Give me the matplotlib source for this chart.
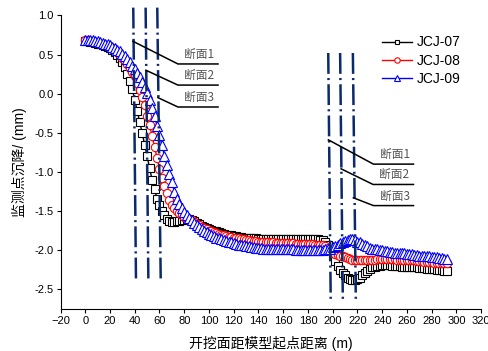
"""Settlement of monitoring points along the model (JCJ-07/08/09)"""

import matplotlib

matplotlib.use("Agg")
import matplotlib.pyplot as plt
import numpy as np

plt.rcParams["font.family"] = ["Liberation Sans", "Noto Sans CJK SC", "DejaVu Sans"]
plt.rcParams["lines.scale_dashes"] = False

# distance from model start (m), one reading every 2 m
distance = np.arange(0, 294, 2)

jcj07 = [
    0.67, 0.67, 0.66, 0.66, 0.65, 0.64, 0.63, 0.62, 0.61, 0.60,
    0.58, 0.56, 0.53, 0.50, 0.46, 0.41, 0.34, 0.25, 0.16, 0.06,
    -0.08, -0.22, -0.36, -0.50, -0.65, -0.80, -0.95, -1.10, -1.22, -1.34,
    -1.42, -1.50, -1.55, -1.60, -1.63, -1.64, -1.64, -1.63, -1.63, -1.62,
    -1.61, -1.60, -1.60, -1.61, -1.63, -1.65, -1.67, -1.69, -1.70, -1.72,
    -1.73, -1.74, -1.75, -1.76, -1.77, -1.78, -1.79, -1.80, -1.80, -1.81,
    -1.82, -1.82, -1.83, -1.83, -1.84, -1.84, -1.84, -1.85, -1.85, -1.85,
    -1.86, -1.86, -1.86, -1.86, -1.86, -1.86, -1.86, -1.86, -1.86, -1.86,
    -1.86, -1.86, -1.86, -1.86, -1.86, -1.86, -1.86, -1.86, -1.86, -1.86,
    -1.86, -1.86, -1.86, -1.86, -1.86, -1.87, -1.87, -1.89, -1.93, -2.00,
    -2.07, -2.14, -2.20, -2.25, -2.29, -2.32, -2.35, -2.37, -2.38, -2.38,
    -2.37, -2.35, -2.32, -2.29, -2.26, -2.24, -2.22, -2.21, -2.20, -2.20,
    -2.19, -2.19, -2.19, -2.19, -2.20, -2.20, -2.20, -2.20, -2.21, -2.21,
    -2.21, -2.21, -2.22, -2.22, -2.22, -2.23, -2.23, -2.23, -2.24, -2.24,
    -2.24, -2.24, -2.25, -2.25, -2.25, -2.26, -2.26,
]
jcj08 = [
    0.68, 0.68, 0.67, 0.67, 0.66, 0.65, 0.64, 0.63, 0.62, 0.61,
    0.60, 0.58, 0.56, 0.53, 0.50, 0.46, 0.42, 0.38, 0.33, 0.28,
    0.22, 0.14, 0.05, -0.04, -0.15, -0.28, -0.40, -0.54, -0.68, -0.82,
    -0.96, -1.08, -1.18, -1.27, -1.36, -1.42, -1.46, -1.50, -1.53, -1.55,
    -1.57, -1.59, -1.61, -1.62, -1.64, -1.66, -1.68, -1.70, -1.72, -1.73,
    -1.75, -1.76, -1.77, -1.78, -1.79, -1.80, -1.81, -1.82, -1.83, -1.83,
    -1.84, -1.85, -1.85, -1.86, -1.86, -1.87, -1.87, -1.88, -1.88, -1.88,
    -1.89, -1.89, -1.89, -1.90, -1.90, -1.90, -1.90, -1.91, -1.91, -1.91,
    -1.91, -1.91, -1.91, -1.91, -1.91, -1.92, -1.92, -1.92, -1.92, -1.92,
    -1.92, -1.92, -1.92, -1.93, -1.93, -1.93, -1.94, -1.95, -1.97, -2.00,
    -2.03, -2.05, -2.06, -2.07, -2.08, -2.09, -2.10, -2.11, -2.12, -2.12,
    -2.13, -2.13, -2.13, -2.13, -2.13, -2.12, -2.12, -2.12, -2.11, -2.11,
    -2.11, -2.11, -2.11, -2.11, -2.11, -2.11, -2.12, -2.12, -2.12, -2.12,
    -2.12, -2.13, -2.13, -2.13, -2.14, -2.14, -2.14, -2.15, -2.15, -2.15,
    -2.15, -2.16, -2.16, -2.16, -2.17, -2.17, -2.17,
]
jcj09 = [
    0.69, 0.69, 0.68, 0.68, 0.67, 0.67, 0.66, 0.65, 0.64, 0.63,
    0.62, 0.60, 0.58, 0.56, 0.54, 0.51, 0.48, 0.44, 0.40, 0.36,
    0.31, 0.26, 0.21, 0.15, 0.09, 0.01, -0.08, -0.18, -0.29, -0.41,
    -0.53, -0.66, -0.79, -0.91, -1.02, -1.13, -1.25, -1.34, -1.41, -1.46,
    -1.51, -1.55, -1.59, -1.62, -1.65, -1.68, -1.70, -1.73, -1.75, -1.77,
    -1.79, -1.81, -1.82, -1.84, -1.85, -1.86, -1.87, -1.88, -1.89, -1.90,
    -1.91, -1.92, -1.93, -1.93, -1.94, -1.95, -1.95, -1.96, -1.96, -1.97,
    -1.97, -1.97, -1.98, -1.98, -1.98, -1.98, -1.99, -1.99, -1.99, -1.99,
    -1.99, -1.99, -1.99, -1.99, -1.99, -2.00, -2.00, -2.00, -2.00, -2.00,
    -2.00, -2.00, -2.00, -2.00, -2.00, -2.00, -2.00, -1.99, -1.99, -1.98,
    -1.96, -1.95, -1.93, -1.91, -1.90, -1.88, -1.87, -1.86, -1.86, -1.87,
    -1.89, -1.90, -1.92, -1.94, -1.95, -1.97, -1.98, -1.99, -1.99, -2.00,
    -2.00, -2.01, -2.01, -2.02, -2.02, -2.03, -2.03, -2.03, -2.04, -2.04,
    -2.05, -2.05, -2.05, -2.06, -2.06, -2.07, -2.07, -2.07, -2.08, -2.08,
    -2.09, -2.09, -2.09, -2.10, -2.10, -2.11, -2.11,
]

# excavation sections (dash-dot markers), top and bottom positions
sec_a_top_x = [38.8, 48.8, 58.2]
sec_a_bot_x = [41.0, 51.0, 61.0]
sec_a_y = (1.10, -2.38)
sec_b_top_x = [196.4, 206.0, 216.3]
sec_b_bot_x = [198.4, 208.2, 218.7]
sec_b_y = (0.52, -2.65)
sec_labels = ["断面1", "断面2", "断面3"]

fig = plt.figure(figsize=(4.88, 3.51), dpi=100)
ax = fig.add_axes([0.124, 0.12, 0.862, 0.836])

ax.plot(distance, jcj07, color="black", lw=1, marker="s", ms=5.5,
        mfc="white", mec="black", mew=0.8, label="JCJ-07")
ax.plot(distance, jcj08, color="red", lw=1, marker="o", ms=6,
        mfc="white", mec="red", mew=0.8, label="JCJ-08")
ax.plot(distance, jcj09, color="blue", lw=1, marker="^", ms=6.5,
        mfc="white", mec="blue", mew=0.8, label="JCJ-09")

navy = "#0b2a6b"
for tops, bots, ys in [(sec_a_top_x, sec_a_bot_x, sec_a_y),
                       (sec_b_top_x, sec_b_bot_x, sec_b_y)]:
    for xt, xb in zip(tops, bots):
        ax.plot([xt, xb], list(ys), color=navy, lw=1.8,
                dashes=(15, 3, 1.5, 3), clip_on=False, zorder=4)

# leader lines and section labels
leaders_a = [((38.5, 0.67), (74.9, 0.38)), ((49.0, 0.30), (74.9, 0.11)),
             ((58.7, -0.05), (74.9, -0.17))]
leaders_b = [((196.5, -0.59), (232.9, -0.90)), ((206.8, -0.96), (232.6, -1.16)),
             ((216.7, -1.33), (232.9, -1.43))]
for leaders, x_end in [(leaders_a, 107.3), (leaders_b, 265.3)]:
    for (p0, p1), lab in zip(leaders, sec_labels):
        ax.plot([p0[0], p1[0], x_end], [p0[1], p1[1], p1[1]],
                color="black", lw=1.1, zorder=5)
        ax.text((p1[0] + x_end) / 2 + 1, p1[1] + 0.04, lab, fontsize=8.5,
                color="#555555", ha="center", va="bottom",
                family=["Noto Sans CJK SC", "DejaVu Sans"])

ax.set_xlim(-20, 320)
ax.set_ylim(-2.75, 1.0)
ax.set_xticks(np.arange(-20, 321, 20))
ax.set_yticks(np.arange(-2.5, 1.01, 0.5))
ax.yaxis.set_major_formatter(matplotlib.ticker.FormatStrFormatter("%.1f"))
ax.tick_params(labelsize=8, length=3, width=0.8, pad=2)
ax.spines["top"].set_visible(False)
ax.spines["right"].set_visible(False)

ax.set_xlabel("开挖面距模型起点距离 (m)", fontsize=10, labelpad=7)
ax.set_ylabel("监测点沉降/ (mm)", fontsize=10, labelpad=5)

ax.legend(loc="upper right", bbox_to_anchor=(0.975, 0.965), frameon=False,
          fontsize=10, handlelength=2.2, handletextpad=0.35, labelspacing=0.3,
          markerscale=0.65, borderpad=0.2)

fig.savefig("out.png", dpi=100)
